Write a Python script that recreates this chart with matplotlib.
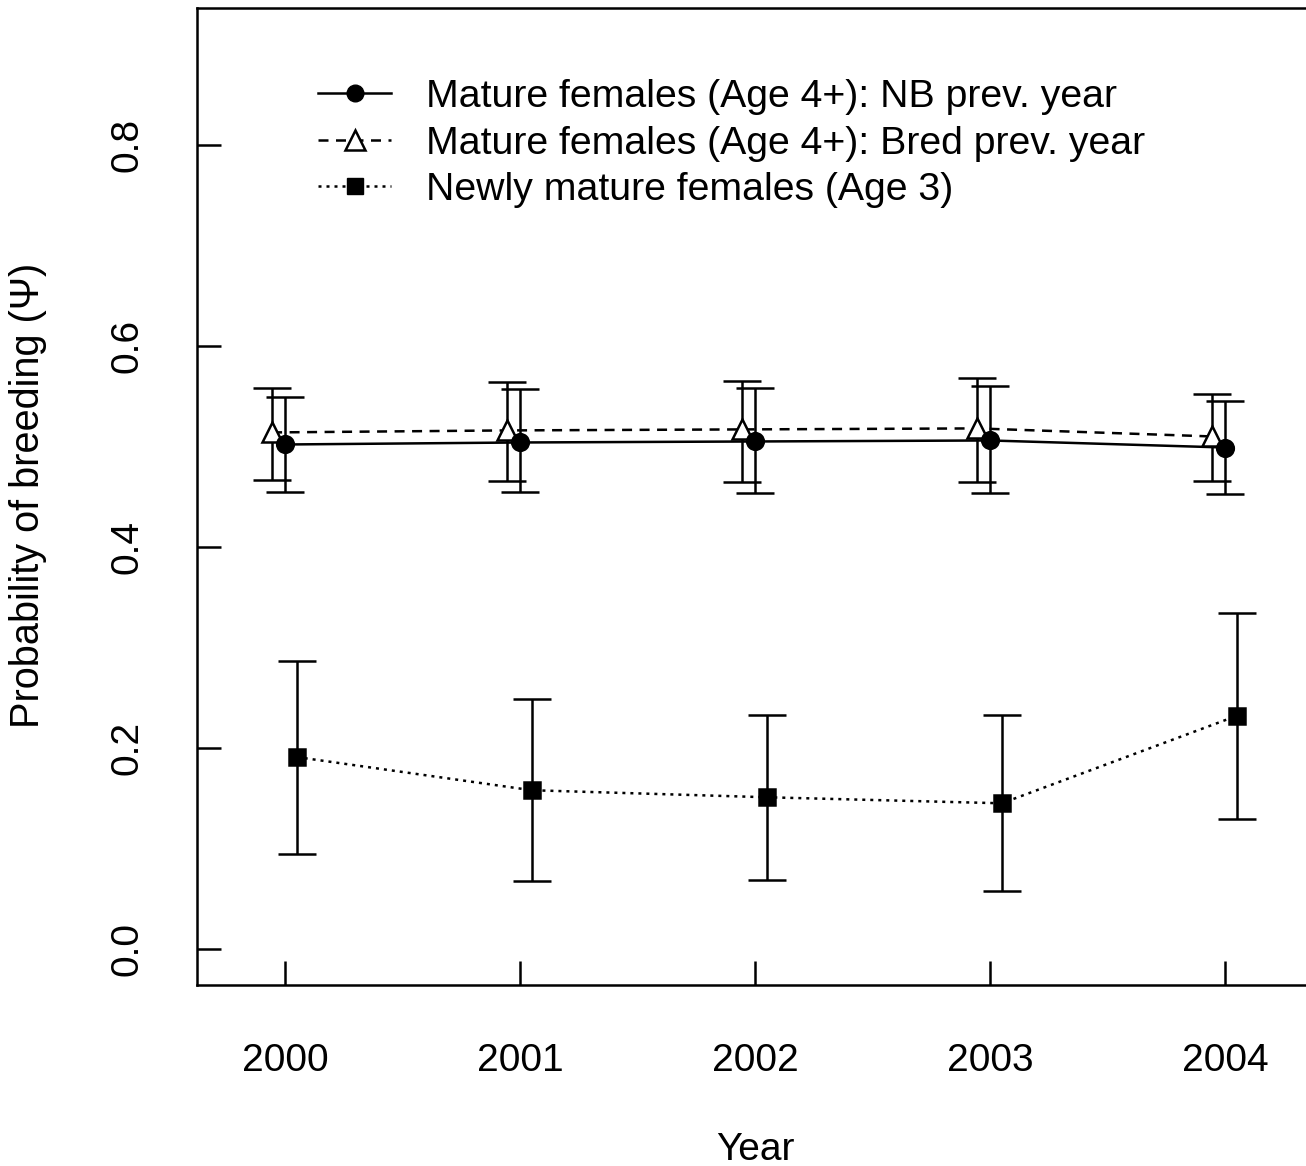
import matplotlib
matplotlib.use("Agg")
import matplotlib.pyplot as plt
from matplotlib.lines import Line2D
import numpy as np

plt.rcParams['font.family'] = ['Liberation Sans', 'DejaVu Sans']

years = [2000, 2001, 2002, 2003, 2004]

nb_mean = [0.502, 0.504, 0.505, 0.506, 0.499]
nb_low = [0.455, 0.455, 0.454, 0.454, 0.453]
nb_high = [0.549, 0.557, 0.558, 0.560, 0.545]

bred_mean = [0.514, 0.516, 0.517, 0.518, 0.510]
bred_low = [0.467, 0.466, 0.465, 0.465, 0.466]
bred_high = [0.558, 0.564, 0.565, 0.568, 0.552]

new_mean = [0.191, 0.158, 0.151, 0.145, 0.232]
new_low = [0.095, 0.068, 0.069, 0.058, 0.129]
new_high = [0.287, 0.249, 0.233, 0.233, 0.334]

labels = ["Mature females (Age 4+): NB prev. year",
          "Mature females (Age 4+): Bred prev. year",
          "Newly mature females (Age 3)"]

W, H = 1306, 1166
fig = plt.figure(figsize=(W / 100, H / 100), dpi=100)
ax = fig.add_axes([197 / W, 1 - 985 / H, 1.0 - 197 / W, (985 - 8) / H])

lw = 1.8
cap = 13.5

def draw(xs, m, lo, hi, ls, marker, ms, mfc):
    xs = np.array(xs, dtype=float)
    m = np.array(m); lo = np.array(lo); hi = np.array(hi)
    ax.errorbar(xs, m, yerr=[m - lo, hi - m], fmt='none', ecolor='black',
                elinewidth=lw, capsize=cap, capthick=lw, zorder=2)
    ax.plot(xs, m, linestyle=ls, color='black', linewidth=lw, zorder=3)
    ax.plot(xs, m, linestyle='none', marker=marker, markersize=ms,
            markerfacecolor=mfc, markeredgecolor='black', markeredgewidth=1.8, zorder=4)

yr = np.array(years, dtype=float)
draw(yr - 0.055, bred_mean, bred_low, bred_high, (0, (4, 3)), '^', 14, 'white')
draw(yr, nb_mean, nb_low, nb_high, '-', 'o', 12, 'black')
draw(yr + 0.05, new_mean, new_low, new_high, (0, (1.2, 2)), 's', 11, 'black')

ax.set_xlim(1999.6255, 2004.3447)
ax.set_ylim(-0.0358, 0.9363)

ax.set_xticks(years)
ax.set_xticklabels([str(y) for y in years])
ax.set_yticks([0.0, 0.2, 0.4, 0.6, 0.8])
ax.set_yticklabels(["0.0", "0.2", "0.4", "0.6", "0.8"], rotation=90, va='center')
ax.tick_params(axis='x', direction='in', length=17, width=1.8, pad=42, labelsize=28)
ax.tick_params(axis='y', direction='in', length=17, width=1.8, pad=37, labelsize=28)
for s in ['left', 'bottom', 'top']:
    ax.spines[s].set_linewidth(1.8)
ax.spines['right'].set_visible(False)

fig.text(755 / W, 1 - 1150 / H, "Year", ha='center', va='center', fontsize=28)
fig.text(28 / W, 1 - 495 / H, "Probability of breeding (Ψ)", ha='center', va='center',
         rotation=90, fontsize=28.6)

handles = [
    Line2D([], [], color='black', linestyle='-', linewidth=lw, marker='o', markersize=12,
           markerfacecolor='black', markeredgecolor='black'),
    Line2D([], [], color='black', linestyle=(0, (4, 3)), linewidth=lw, marker='^', markersize=14,
           markerfacecolor='white', markeredgecolor='black', markeredgewidth=1.8),
    Line2D([], [], color='black', linestyle=(0, (1.2, 2)), linewidth=lw, marker='s', markersize=11,
           markerfacecolor='black', markeredgecolor='black'),
]
leg = ax.legend(handles, labels, loc='upper left', bbox_to_anchor=(318 / W, 1 - 79 / H),
                bbox_transform=fig.transFigure, frameon=False, fontsize=28.3,
                handlelength=1.86, handletextpad=0.9, labelspacing=0.27,
                borderpad=0, borderaxespad=0)

fig.savefig("out.png", dpi=100)
